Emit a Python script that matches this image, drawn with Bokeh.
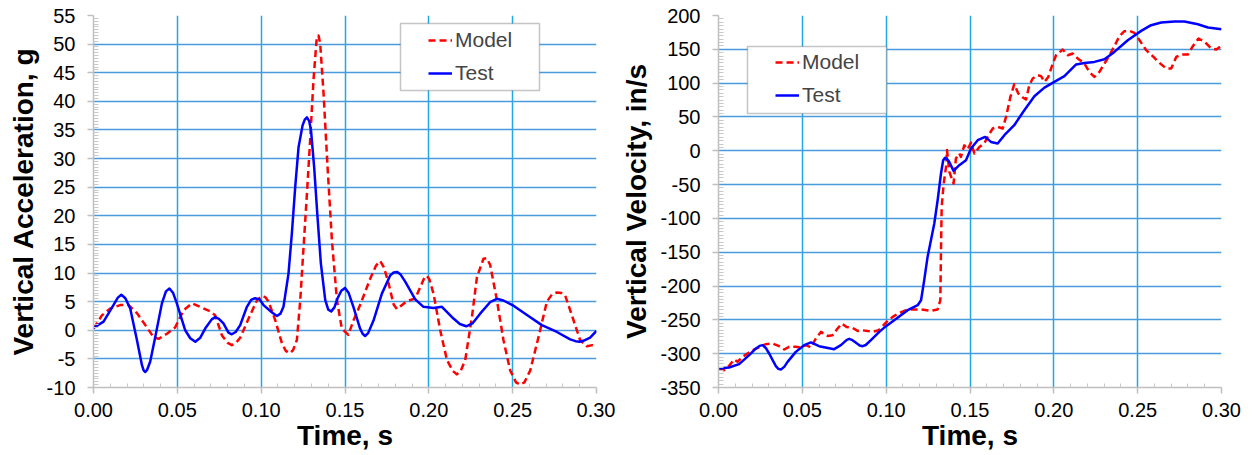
from bokeh.plotting import figure
from bokeh.layouts import row
from bokeh.models import (Range1d, FixedTicker, PrintfTickFormatter, Legend, LegendItem,
                          BoxAnnotation)
from bokeh.embed import file_html
from bokeh.resources import INLINE

# ---------------- data ----------------
acc_test_t = [0, 0.006, 0.0119, 0.0145, 0.0166, 0.019, 0.0219, 0.0259, 0.0289, 0.0299, 0.0309,
              0.032, 0.0338, 0.0368, 0.0408, 0.0432, 0.0453, 0.0475, 0.0497, 0.0547, 0.0577,
              0.0607, 0.0637, 0.0666, 0.0705, 0.0726, 0.0748, 0.0775, 0.0805, 0.0825, 0.0848,
              0.0875, 0.0915, 0.094, 0.0964, 0.099, 0.1014, 0.1065, 0.1094, 0.1115, 0.1133,
              0.1163, 0.1183, 0.1203, 0.1223, 0.1247, 0.126, 0.1273, 0.1286, 0.1297, 0.1316,
              0.1336, 0.1356, 0.1382, 0.1400, 0.1418, 0.1437, 0.1455, 0.1478, 0.150, 0.1522,
              0.155, 0.159, 0.1605, 0.162, 0.1638, 0.167, 0.172, 0.177, 0.179, 0.181, 0.183,
              0.1859, 0.1919, 0.1968, 0.2028, 0.2078, 0.2147, 0.2185, 0.2223, 0.226, 0.2306,
              0.2365, 0.2406, 0.2445, 0.2505, 0.2594, 0.2674, 0.2764, 0.2843, 0.2875, 0.290,
              0.2925, 0.2962, 0.300]
acc_test = [0.4, 1.5, 4.4, 5.7, 6.2, 5.6, 3.8, -1.7, -6.1, -7.0, -7.3,
            -6.9, -5.5, -1.2, 4.7, 6.8, 7.3, 6.5, 4.7, 0.0, -1.4,
            -2.0, -1.3, 0.3, 1.9, 2.3, 2.0, 1.2, -0.4, -0.7, -0.3,
            0.9, 4.1, 5.3, 5.6, 5.4, 4.4, 3.1, 2.5, 2.9, 4.1,
            9.9, 16.9, 25.0, 32.0, 35.8, 36.8, 37.2, 36.6, 35.0, 28.5,
            19.8, 11.7, 5.3, 3.6, 3.3, 4.0, 5.55, 6.9, 7.4, 6.5,
            4.1, 0.3, -0.6, -1.0, -0.5, 1.7, 6.4, 9.6, 10.1, 10.2, 9.8,
            8.5, 5.4, 4.1, 3.9, 4.1, 2.05, 1.1, 0.7, 1.2, 2.9,
            4.9, 5.5, 5.2, 4.3, 2.5, 0.9, -0.3, -1.6, -1.9, -2.0,
            -1.8, -1.3, -0.1]

acc_model_t = [0, 0.005, 0.01, 0.0159, 0.0209, 0.0259, 0.0309, 0.0358, 0.0388, 0.0438, 0.0487,
               0.0537, 0.0587, 0.0636, 0.0696, 0.0726, 0.0766, 0.080, 0.0825, 0.085, 0.0875,
               0.0925, 0.0975, 0.1004, 0.1024, 0.1044, 0.1084, 0.1124, 0.1147, 0.1169, 0.119,
               0.1213, 0.1233, 0.1253, 0.1273, 0.1292, 0.1312, 0.1332, 0.1342, 0.1352, 0.1372,
               0.1396, 0.1422, 0.1452, 0.1481, 0.1520, 0.1551, 0.159, 0.165, 0.1685, 0.171,
               0.1732, 0.176, 0.179, 0.181, 0.1835, 0.1869, 0.1919, 0.1959, 0.1975, 0.1988,
               0.2003, 0.2028, 0.2068, 0.2108, 0.2143, 0.2167, 0.219, 0.2217, 0.2257, 0.2287,
               0.2326, 0.2346, 0.2366, 0.2406, 0.2445, 0.2485, 0.252, 0.2545, 0.257, 0.2605,
               0.2654, 0.2704, 0.2735, 0.2764, 0.2790, 0.2813, 0.2863, 0.2902, 0.2943, 0.2975,
               0.300]
acc_model = [0.3, 2.6, 3.8, 4.4, 4.4, 3.0, 0.9, -1.2, -1.5, -0.6, 0.5,
             3.5, 4.7, 4.1, 3.3, 2.6, -0.9, -2.2, -2.6, -2.2, -1.3,
             2.05, 5.25, 6.0, 5.8, 5.0, 1.75, -2.3, -3.6, -4.0, -3.5,
             -1.7, 5.25, 14.6, 23.9, 33.2, 43.7, 51.3, 51.5, 50.1, 41.4,
             28.5, 15.7, 5.25, 0.3, -0.8, 1.75, 4.4, 9.0, 11.3, 12.1,
             11.0, 8.2, 4.5, 3.7, 4.3, 5.1, 5.55, 8.2, 9.3, 9.5,
             8.9, 6.4, 0.0, -5.2, -7.1, -7.7, -7.1, -5.2, 2.3, 9.3,
             12.5, 12.6, 11.4, 5.25, -1.7, -7.0, -9.1, -9.5, -9.1, -7.0,
             -1.2, 5.0, 6.3, 6.6, 6.5, 6.1, 1.75, -1.7, -2.8, -2.6,
             -2.7]

vel_test_t = [0, 0.0063, 0.0123, 0.0183, 0.0223, 0.0245, 0.0263, 0.0282, 0.0302, 0.0342,
              0.0357, 0.0372, 0.0392, 0.0412, 0.0461, 0.0511, 0.0551, 0.060, 0.069, 0.073,
              0.0765, 0.078, 0.0795, 0.082, 0.0842, 0.086, 0.0878, 0.0909, 0.0959, 0.0999,
              0.1048, 0.1128, 0.1188, 0.1208, 0.1227, 0.1247, 0.1267, 0.1287, 0.1307, 0.1327,
              0.1340, 0.1351, 0.1362, 0.1376, 0.1402, 0.1436, 0.1476, 0.1506, 0.1546, 0.159,
              0.1625, 0.1665, 0.1705, 0.1764, 0.1824, 0.1884, 0.1944, 0.2003, 0.2063, 0.2133,
              0.2182, 0.2242, 0.2302, 0.2361, 0.2441, 0.2521, 0.258, 0.264, 0.272, 0.2779,
              0.2859, 0.2919, 0.300]
vel_test = [-322, -320.4, -315.5, -302.2, -292.3, -288.5, -287.4, -291.5, -299.7, -318.5,
            -322.5, -323.4, -319.5, -312.1, -297.3, -287.4, -283.4, -288.9, -293.3, -287.4,
            -279.5, -278.1, -279.5, -284.0, -287.8, -288.9, -287.2, -280.0, -267.7, -259.3,
            -250.5, -235.7, -228.3, -220.9, -191.3, -156.9, -132.2, -107.5, -73.1, -33.6,
            -14.0, -10.5, -12.0, -16.4, -29.7, -21.3, -13.9, 3.4, 15.6, 20.5,
            13.1, 10.8, 23.0, 37.8, 60.0, 80.7, 93.4, 101.8, 110.3, 127.6,
            129.9, 131.4, 135.4, 146.2, 163.5, 177.3, 185.7, 189.6, 191.1, 191.1,
            187.1, 182.3, 179.7]

vel_model_t = [0, 0.0034, 0.0063, 0.0093, 0.0113, 0.0143, 0.0173, 0.0203, 0.0242, 0.0282,
               0.0322, 0.0362, 0.0392, 0.0421, 0.0461, 0.0491, 0.0521, 0.0551, 0.0581, 0.0611,
               0.0651, 0.068, 0.071, 0.0736, 0.0764, 0.08, 0.083, 0.086, 0.0889, 0.0919,
               0.0955, 0.0979, 0.1009, 0.1039, 0.1078, 0.1118, 0.1148, 0.1208, 0.1267, 0.1307,
               0.1323, 0.1327, 0.1331, 0.1343, 0.1357, 0.1363, 0.1377, 0.1391, 0.1402, 0.1416,
               0.1436, 0.1446, 0.1466, 0.1486, 0.1506, 0.1526, 0.1556, 0.1585, 0.1605, 0.1635,
               0.1665, 0.1695, 0.1715, 0.1741, 0.1764, 0.1788, 0.1815, 0.1834, 0.1854, 0.1874,
               0.1904, 0.1924, 0.1944, 0.1967, 0.1987, 0.2013, 0.2053, 0.2083, 0.2113, 0.2143,
               0.2182, 0.2212, 0.2242, 0.2272, 0.2302, 0.2332, 0.2361, 0.2391, 0.2421, 0.2451,
               0.2481, 0.2511, 0.2551, 0.259, 0.263, 0.267, 0.27, 0.273, 0.2759, 0.2799,
               0.2829, 0.2863, 0.2899, 0.2939, 0.2969, 0.300]
vel_model = [-322, -324.4, -318, -308.6, -312, -304.8, -299.7, -294.8, -290.8, -286,
             -284.9, -288.9, -293.8, -289.9, -289.9, -290.8, -287.4, -290.8, -277.5, -267.8,
             -273.7, -272.7, -262.8, -255.4, -260.4, -261.9, -266.3, -265.5, -266.3, -267.8,
             -265.3, -259.3, -251.5, -245.6, -239.7, -235.7, -234.7, -234.7, -236.7, -234.7,
             -220.9, -147, -83, -48.4, -23.8, 1.1, -31.2, -41, -48.4, -11.4,
             -4.0, -9.0, 8.0, 2.0, 12.0, -4.0, 5.7, 10.8, 20.5, 32.9,
             35.3, 32.9, 50.1, 79.7, 98.4, 84.7, 78.8, 75.8, 97, 106.9,
             111.7, 110.3, 101.8, 109.2, 124, 141.3, 149.7, 141.3, 143.8, 136.4,
             129, 116.6, 109.2, 116.6, 129, 141.3, 154.6, 169.4, 176.8, 177.3,
             174.3, 163.5, 148.7, 139.8, 129.9, 121.6, 121.6, 138.8, 142.3, 142.3,
             154.6, 166, 161, 151.2, 149.7, 155.1]

x_ticks = [0.0, 0.05, 0.10, 0.15, 0.20, 0.25, 0.30]
x_minor = [0.01, 0.02, 0.03, 0.04, 0.06, 0.07, 0.08, 0.09, 0.11, 0.12, 0.13, 0.14,
           0.16, 0.17, 0.18, 0.19, 0.21, 0.22, 0.23, 0.24, 0.26, 0.27, 0.28, 0.29]
acc_ticks = [-10, -5, 0, 5, 10, 15, 20, 25, 30, 35, 40, 45, 50, 55]
vel_ticks = [-350, -300, -250, -200, -150, -100, -50, 0, 50, 100, 150, 200]

series_names = ["Model", "Test"]
x_title = "Time, s"
acc_title = "Vertical Acceleration, g"
vel_title = "Vertical Velocity, in/s"

FONT = "Liberation Sans"
RED = "#FF0000"
BLUE = "#0000FF"


def make_fig(width, left_border, right_border, y_lo, y_hi, y_ticks, y_minor_step,
             y_title, t_model, v_model, t_test, v_test, leg_loc, box):
    p = figure(width=width, height=455, x_range=Range1d(0, 0.3), y_range=Range1d(y_lo, y_hi),
               output_backend="svg", toolbar_location=None,
               min_border_left=left_border, min_border_right=right_border,
               min_border_top=15, min_border_bottom=68)
    p.outline_line_color = None
    p.background_fill_color = "white"
    p.border_fill_color = "white"

    y_minor = []
    for a, b in zip(y_ticks[:-1], y_ticks[1:]):
        k = 1
        while a + k * y_minor_step < b - 1e-9:
            y_minor.append(a + k * y_minor_step)
            k += 1

    p.xaxis.ticker = FixedTicker(ticks=x_ticks, minor_ticks=x_minor)
    p.yaxis.ticker = FixedTicker(ticks=y_ticks, minor_ticks=y_minor)
    p.xaxis.formatter = PrintfTickFormatter(format="%.2f")
    p.yaxis.formatter = PrintfTickFormatter(format="%d")

    for ax in (p.xaxis[0], p.yaxis[0]):
        ax.axis_line_color = "#BFBFBF"
        ax.axis_line_width = 1.5
        ax.major_tick_line_color = "#BFBFBF"
        ax.major_tick_line_width = 1.5
        ax.major_tick_out = 6
        ax.major_tick_in = 0
        ax.minor_tick_line_color = "#C8C8C8"
        ax.minor_tick_line_width = 1
        ax.major_label_text_font = FONT
        ax.major_label_text_font_size = "20px"
        ax.major_label_text_color = "black"
        ax.axis_label_text_font = FONT
        ax.axis_label_text_font_size = "28px"
        ax.axis_label_text_font_style = "bold"
        ax.axis_label_text_color = "black"

    p.xaxis.minor_tick_in = 4
    p.xaxis.minor_tick_out = 0
    p.yaxis.minor_tick_in = 5
    p.yaxis.minor_tick_out = 0
    p.xaxis.major_label_standoff = 9
    p.yaxis.major_label_standoff = 12
    p.xaxis.axis_label_standoff = 0
    p.yaxis.axis_label_standoff = 5
    p.xaxis.axis_label = x_title
    p.yaxis.axis_label = y_title

    p.xgrid.grid_line_color = "#1FA8E6"
    p.xgrid.grid_line_width = 1.5
    p.ygrid.grid_line_color = "#4A9BDE"
    p.ygrid.grid_line_width = 1.5

    r_model = p.line(t_model, v_model, line_color=RED, line_width=2.5, line_dash="7 4",
                     line_join="round")
    r_test = p.line(t_test, v_test, line_color=BLUE, line_width=2.5, line_join="round")

    b = BoxAnnotation(left=box[0], right=box[1], top=box[2], bottom=box[3],
                      left_units="canvas", right_units="canvas",
                      top_units="canvas", bottom_units="canvas",
                      fill_color="white", fill_alpha=1.0,
                      line_color="#404040", line_width=1.5, level="overlay")
    p.add_layout(b)

    legend = Legend(items=[LegendItem(label=series_names[0], renderers=[r_model]),
                           LegendItem(label=series_names[1], renderers=[r_test])],
                    location=leg_loc, padding=0, spacing=9,
                    border_line_color=None, background_fill_alpha=0,
                    label_text_font=FONT, label_text_font_size="21px",
                    glyph_width=24, glyph_height=24, label_height=24,
                    label_standoff=3, margin=0)
    p.add_layout(legend)
    return p


p1 = make_fig(615, 93, 19, -10, 55, acc_ticks, 0.5, acc_title,
              acc_model_t, acc_model, acc_test_t, acc_test,
              (335, 302), (400, 539, 23, 90))
p2 = make_fig(639, 103, 33, -350, 200, vel_ticks, 5, vel_title,
              vel_model_t, vel_model, vel_test_t, vel_test,
              (57, 280), (132, 271, 46, 113))

layout = row(p1, p2)
open("out.html", "w").write(file_html(layout, INLINE))
